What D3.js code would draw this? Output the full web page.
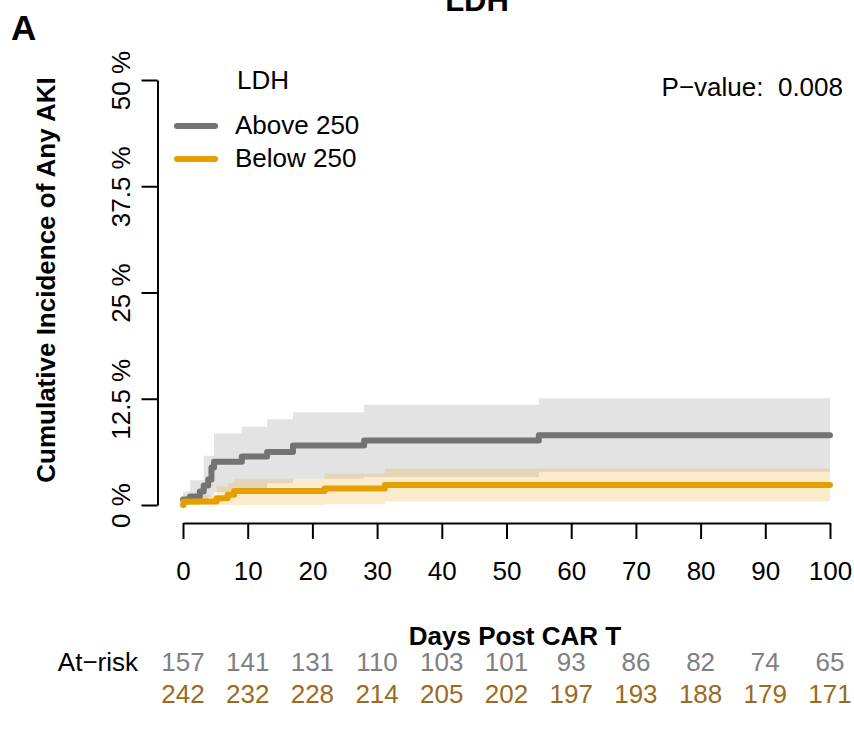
<!DOCTYPE html>
<html>
<head>
<meta charset="utf-8">
<script src="https://cdn.jsdelivr.net/npm/d3@7"></script>
<style>
  html, body { margin: 0; padding: 0; background: #fff; }
  svg text { font-family: "Liberation Sans", Arial, Helvetica, sans-serif; }
</style>
</head>
<body>
<svg id="chart" width="854" height="734"></svg>
<script>
// Cumulative incidence of any AKI by LDH group (step estimates with confidence bands)
const groups = ["Above 250", "Below 250"];
const groupColors = ["#737373", "#E69F00"];
const bandColors = ["#737373", "#E69F00"];
const riskColors = ["#808080", "#9A6B22"];

// Above 250: event times (days), estimate, lower and upper bound (%)
const aboveTime  = [0,    1.1, 2.6, 3.2, 3.9, 4.4, 4.8, 9.1, 13,   17,  28,  55];
const aboveEst   = [0.65, 1.0, 1.6, 2.3, 3.0, 4.4, 5.1, 5.7, 6.25, 7.0, 7.6, 8.2];
const aboveLower = [0,    0,   0.2, 0.5, 0.9, 1.2, 1.5, 2.0, 2.55, 3.1, 3.3, 3.9];
const aboveUpper = [1.6,  2.9, 2.9, 5.8, 5.8, 5.8, 8.4, 9.2, 10.1, 10.9, 11.8, 12.55];

// Below 250
const belowTime  = [0,   0.1, 5.2, 6.9, 7.9,  21.9, 31.2];
const belowEst   = [0,   0.4, 0.8, 1.2, 1.65, 1.95, 2.35];
const belowLower = [0,   0,   0,   0,   0,    0.1,  0.4];
const belowUpper = [0,   1.2, 2.2, 2.6, 3.1,  3.7,  4.3];

const xTicks = [0, 10, 20, 30, 40, 50, 60, 70, 80, 90, 100];
const yTicks = [0, 12.5, 25, 37.5, 50];
const yTickLabels = ["0 %", "12.5 %", "25 %", "37.5 %", "50 %"];
const riskAbove = [157, 141, 131, 110, 103, 101, 93, 86, 82, 74, 65];
const riskBelow = [242, 232, 228, 214, 205, 202, 197, 193, 188, 179, 171];
const pValue = "0.008";
const tMax = 100;

const svg = d3.select("#chart");
const x = d3.scaleLinear().domain([0, 100]).range([183, 830]);
const y = d3.scaleLinear().domain([0, 50]).range([505, 80]);

function buildSeries(time, est, lower, upper) {
  const pts = time.map((t, i) => ({ t, est: est[i], lo: lower[i], hi: upper[i] }));
  const last = pts[pts.length - 1];
  pts.push({ t: tMax, est: last.est, lo: last.lo, hi: last.hi });
  return pts;
}
const series = [
  buildSeries(aboveTime, aboveEst, aboveLower, aboveUpper),
  buildSeries(belowTime, belowEst, belowLower, belowUpper)
];

// confidence bands
const area = d3.area().curve(d3.curveStepAfter)
  .x(d => x(d.t)).y0(d => y(d.lo)).y1(d => y(d.hi));
svg.append("g").selectAll("path").data(series).join("path")
  .attr("d", area)
  .attr("fill", (d, i) => bandColors[i])
  .attr("fill-opacity", 0.2);

// step curves
const line = d3.line().curve(d3.curveStepAfter)
  .x(d => x(d.t)).y(d => y(d.est));
svg.append("g").selectAll("path").data(series).join("path")
  .attr("d", line)
  .attr("fill", "none")
  .attr("stroke", (d, i) => groupColors[i])
  .attr("stroke-width", 6)
  .attr("stroke-linecap", "round")
  .attr("stroke-linejoin", "round");

// x axis
const xAxis = svg.append("g").attr("transform", "translate(0,523)")
  .call(d3.axisBottom(x).tickValues(xTicks).tickSize(16).tickSizeOuter(0).tickPadding(23));
xAxis.select(".domain").attr("stroke", "#000").attr("stroke-width", 2);
xAxis.selectAll(".tick line").attr("stroke", "#000").attr("stroke-width", 2);
xAxis.selectAll("text").attr("font-size", 26).attr("fill", "#000")
  .attr("font-family", "Liberation Sans, Arial, sans-serif");

// y axis
const yAxis = svg.append("g").attr("transform", "translate(157.5,0)")
  .call(d3.axisLeft(y).tickValues(yTicks).tickSize(16).tickSizeOuter(0)
    .tickFormat((d, i) => yTickLabels[i]));
yAxis.select(".domain").attr("stroke", "#000").attr("stroke-width", 2);
yAxis.selectAll(".tick line").attr("stroke", "#000").attr("stroke-width", 2);
yAxis.selectAll("text")
  .attr("x", null).attr("dy", null)
  .attr("text-anchor", "middle")
  .attr("transform", "translate(-28,0) rotate(-90)")
  .attr("font-size", 26).attr("fill", "#000")
  .attr("font-family", "Liberation Sans, Arial, sans-serif");

// titles
svg.append("text").attr("x", 477).attr("y", 11).attr("text-anchor", "middle")
  .attr("font-size", 31).attr("font-weight", "bold").text("LDH");
svg.append("text").attr("x", 11).attr("y", 40)
  .attr("font-size", 35).attr("font-weight", "bold").text("A");
svg.append("text").attr("transform", "translate(55,280) rotate(-90)")
  .attr("text-anchor", "middle").attr("font-size", 26).attr("font-weight", "bold")
  .text("Cumulative Incidence of Any AKI");
svg.append("text").attr("x", 515).attr("y", 645).attr("text-anchor", "middle")
  .attr("font-size", 26).attr("font-weight", "bold").text("Days Post CAR T");

// legend
const legend = svg.append("g");
legend.append("text").attr("x", 237).attr("y", 89).attr("font-size", 26).text("LDH");
groups.forEach((g, i) => {
  const ly = 126 + i * 33;
  legend.append("line").attr("x1", 177).attr("x2", 215).attr("y1", ly).attr("y2", ly)
    .attr("stroke", groupColors[i]).attr("stroke-width", 6).attr("stroke-linecap", "round");
  legend.append("text").attr("x", 235).attr("y", ly + 8).attr("font-size", 26).text(g);
});

// p-value
svg.append("text").attr("x", 843).attr("y", 96).attr("text-anchor", "end")
  .attr("font-size", 26).style("white-space", "pre").text("P\u2212value:  " + pValue);

// number at risk
svg.append("text").attr("x", 138).attr("y", 671).attr("text-anchor", "end")
  .attr("font-size", 26).text("At\u2212risk");
[riskAbove, riskBelow].forEach((row, r) => {
  svg.append("g").selectAll("text").data(row).join("text")
    .attr("x", (d, i) => x(xTicks[i]))
    .attr("y", 671 + r * 32)
    .attr("text-anchor", "middle")
    .attr("font-size", 26)
    .attr("fill", riskColors[r])
    .text(d => d);
});
</script>
</body>
</html>
